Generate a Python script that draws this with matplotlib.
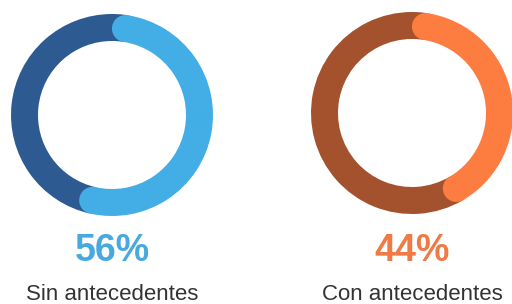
import numpy as np
import matplotlib
matplotlib.use('Agg')
import matplotlib.pyplot as plt
from matplotlib.patches import Circle

# Datos
etiquetas = ['Sin antecedentes', 'Con antecedentes']
porcentajes = [56, 44]
textos = ['56%', '44%']
col_claro = ['#43ade5', '#fd7c40']
col_oscuro = ['#2d5b91', '#a3522d']
col_texto = ['#48a9de', '#ef7a46']

# Centros de los anillos (coordenadas del lienzo, y hacia arriba)
centros = [(112, 189), (412, 191)]
radio = 101
ancho = 27

fig = plt.figure(figsize=(5.12, 3.04), dpi=100)
ax = fig.add_axes([0, 0, 1, 1])

for i in range(2):
    p = porcentajes[i]
    cx, cy = centros[i]
    rm = radio - ancho / 2
    # los extremos redondeados quedan dentro del porcentaje
    off = np.rad2deg(ancho / 2 / rm) / 360 * 100
    ax.pie([off, p - 2 * off, 100 - p + off],
           colors=[col_oscuro[i], col_claro[i], col_oscuro[i]], startangle=90,
           counterclock=False, center=(cx, cy), radius=radio,
           wedgeprops=dict(width=ancho, linewidth=0))
    for ang in [off, p - off]:
        t = np.deg2rad(ang / 100 * 360)
        ax.add_patch(Circle((cx + rm * np.sin(t), cy + rm * np.cos(t)),
                            ancho / 2, color=col_claro[i], lw=0, zorder=3))
    ax.text(cx, 304 - 251, textos[i], color=col_texto[i], fontsize=27,
            fontweight='bold', family='Liberation Sans', ha='center', va='center')
    ax.text(cx, 4, etiquetas[i], color='#333333', fontsize=16,
            family='Liberation Sans', ha='center', va='baseline')

ax.set_xlim(0, 512)
ax.set_ylim(0, 304)
ax.set_aspect('auto')
ax.axis('off')
fig.savefig('out.png', dpi=100, facecolor='white')
